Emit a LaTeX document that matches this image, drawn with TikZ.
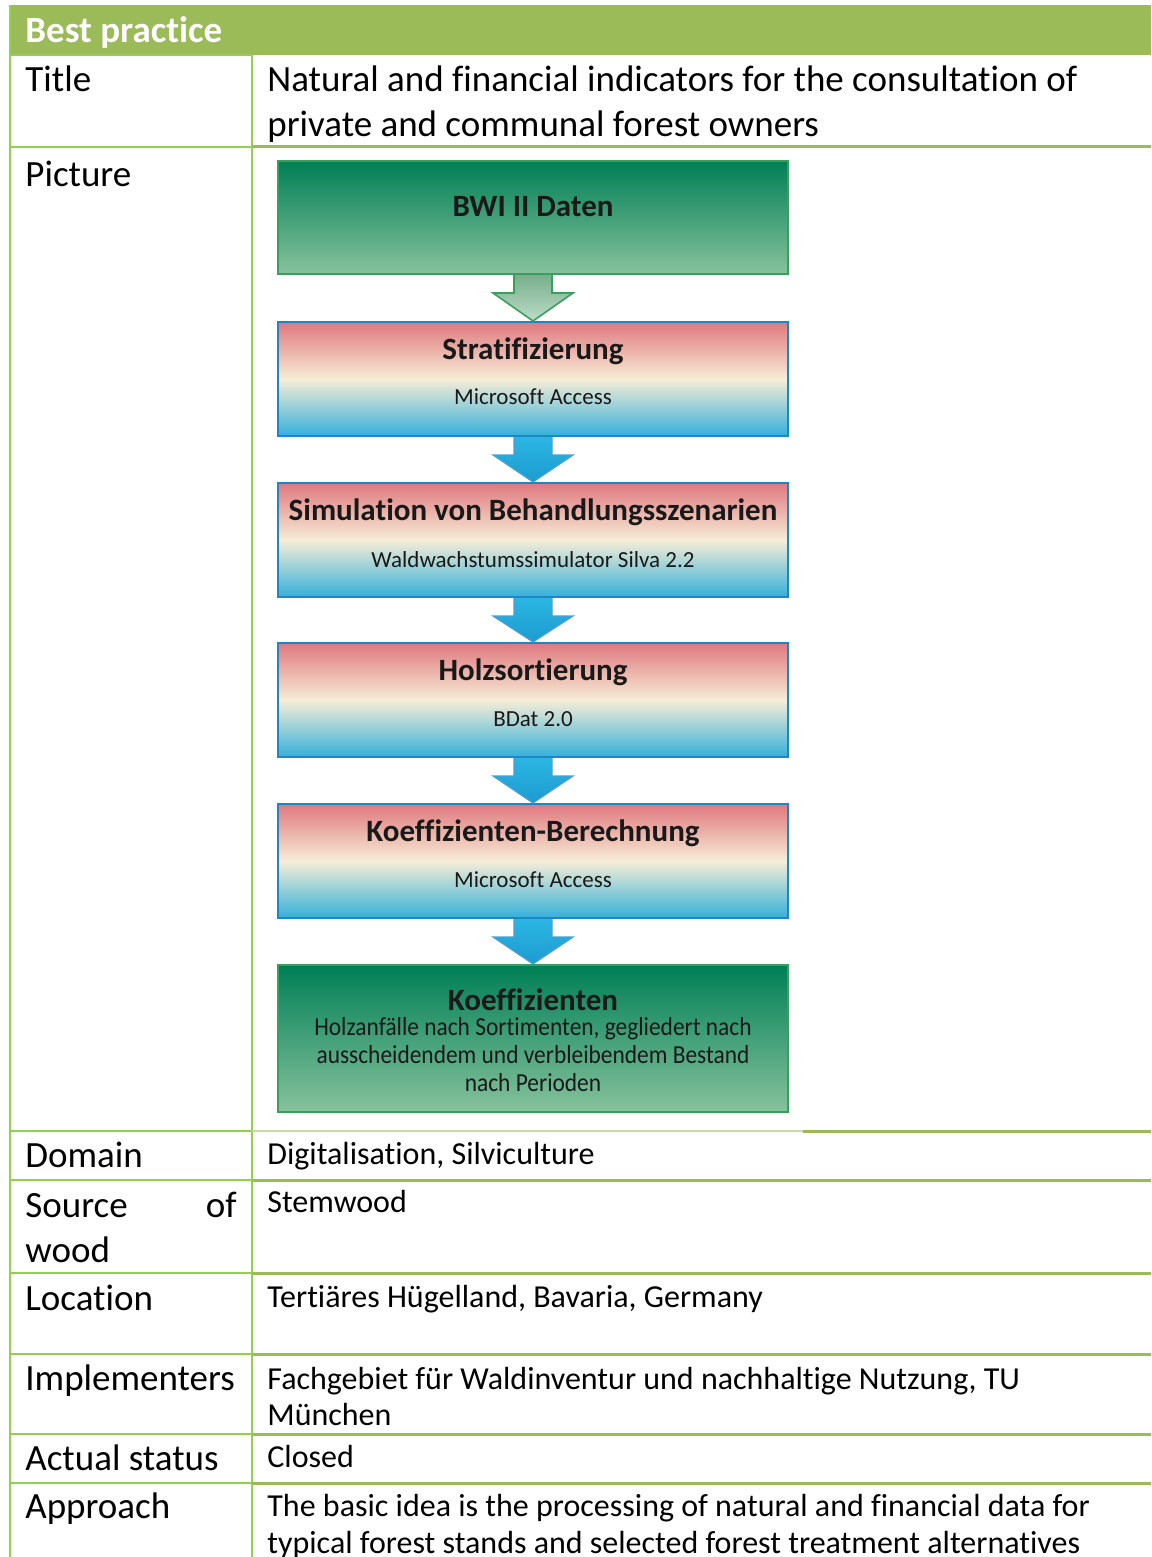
\documentclass[tikz,border=0pt]{standalone}
\usepackage{fontspec}
\setmainfont[Ligatures=NoCommon]{Carlito}
\newfontfamily\boxfont[Ligatures=NoCommon]{Carlito}
\newfontfamily\narrowfont[FakeStretch=0.9, Ligatures=NoCommon]{Carlito}
\usetikzlibrary{calc}

\definecolor{headgreen}{HTML}{9BBB59}
\definecolor{gridgreen}{HTML}{92D050}
\definecolor{darkforest}{HTML}{007F56}
\definecolor{paleforest}{HTML}{86C29C}
\definecolor{boxedge}{HTML}{3A9E5C}
\definecolor{rosetop}{HTML}{E0787E}
\definecolor{creammid}{HTML}{F6EDD6}
\definecolor{cyanbot}{HTML}{34B0DA}
\definecolor{blueedge}{HTML}{1F86C6}
\definecolor{arrowtop}{HTML}{2BB6E2}
\definecolor{arrowbot}{HTML}{1C9BD0}

\tikzset{
  greenbox/.style={draw=boxedge, line width=1pt, top color=darkforest,
    bottom color=paleforest, minimum width=255pt, inner sep=0pt},
  stepbox/.style={draw=blueedge, line width=1pt, top color=rosetop,
    bottom color=cyanbot, middle color=creammid, minimum width=255pt,
    minimum height=57pt, inner sep=0pt},
  bluearrow/.style={draw=blueedge!80, line width=0.6pt, top color=arrowtop, bottom color=arrowbot},
  greenarrow/.style={draw=boxedge, line width=0.8pt, top color=paleforest!90!black, bottom color=paleforest!55},
  boxtitle/.style={anchor=base, inner sep=0pt, font=\boxfont\bfseries\fontsize{15.5}{18}\selectfont, text=black!90},
  boxsub/.style={anchor=base, inner sep=0pt, font=\boxfont\fontsize{11.5}{14}\selectfont, text=black!90},
  boxnote/.style={anchor=base, inner sep=0pt, font=\narrowfont\fontsize{13}{14}\selectfont, text=black!90},
  rowlabel/.style={anchor=base west, inner sep=0pt, font=\fontsize{18.5}{22.5}\selectfont},
  rowtext/.style={anchor=base west, inner sep=0pt, font=\fontsize{16}{19.5}\selectfont},
  thinrule/.style={draw=gridgreen, line width=1pt},
  thickrule/.style={draw=headgreen, line width=1.5pt}
}

\begin{document}
\begin{tikzpicture}[x=0.5pt, y=-0.5pt]
    \useasboundingbox (0, 0) rectangle (1151, 1557);

    % Header band
    \fill[headgreen] (10, 5) rectangle (1151, 55);
    \node[rowlabel, font=\bfseries\fontsize{18.5}{22.5}\selectfont, text=white] (head) at (25, 43) {Best practice};

    % Grid of the table
    \draw[thinrule] (10, 5) -- (10, 1557);
    \draw[thinrule] (252, 55) -- (252, 1557);
    \draw[thinrule] (10, 55) -- (252, 55);
    \draw[thinrule] (10, 147) -- (252, 147);
    \draw[thickrule] (252, 147) -- (1151, 147);
    \draw[thinrule] (10, 1131) -- (252, 1131);
    \draw[draw=headgreen!55, line width=1pt] (252, 1131) -- (803, 1131);
    \draw[thickrule] (803, 1131) -- (1151, 1131);
    \draw[thinrule] (10, 1180) -- (252, 1180);
    \draw[thickrule] (252, 1180) -- (1151, 1180);
    \draw[thinrule] (10, 1273) -- (252, 1273);
    \draw[thickrule] (252, 1273) -- (1151, 1273);
    \draw[thinrule] (10, 1354) -- (252, 1354);
    \draw[thickrule] (252, 1354) -- (1151, 1354);
    \draw[thinrule] (10, 1434) -- (252, 1434);
    \draw[thickrule] (252, 1434) -- (1151, 1434);
    \draw[thinrule] (10, 1483) -- (252, 1483);
    \draw[thickrule] (252, 1483) -- (1151, 1483);

    % Row labels
    \node[rowlabel] (lab-title) at (25, 92) {Title};
    \node[rowlabel] (lab-pic) at (25, 187) {Picture};
    \node[rowlabel] (lab-dom) at (25, 1167) {Domain};
    \node[rowlabel] (lab-src) at (25, 1217) {Source};
    \node[rowlabel, anchor=base east] (lab-of) at (237, 1217) {of};
    \node[rowlabel] (lab-wood) at (25, 1262) {wood};
    \node[rowlabel] (lab-loc) at (25, 1310) {Location};
    \node[rowlabel] (lab-impl) at (25, 1390) {Implementers};
    \node[rowlabel] (lab-stat) at (25, 1470) {Actual status};
    \node[rowlabel] (lab-appr) at (25, 1518) {Approach};

    % Row contents
    \node[rowlabel] (txt-title1) at (267, 92) {Natural and financial indicators for the consultation of};
    \node[rowlabel] (txt-title2) at (267, 137) {private and communal forest owners};
    \node[rowtext] (txt-dom) at (267, 1164) {Digitalisation, Silviculture};
    \node[rowtext] (txt-src) at (267, 1212) {Stemwood};
    \node[rowtext] (txt-loc) at (267, 1307) {Tertiäres Hügelland, Bavaria, Germany};
    \node[rowtext] (txt-impl1) at (267, 1389) {Fachgebiet für Waldinventur und nachhaltige Nutzung, TU};
    \node[rowtext] (txt-impl2) at (267, 1425) {München};
    \node[rowtext] (txt-stat) at (267, 1467) {Closed};
    \node[rowtext] (txt-appr1) at (267, 1516) {The basic idea is the processing of natural and financial data for};
    \node[rowtext] (txt-appr2) at (267, 1553) {typical forest stands and selected forest treatment alternatives};

    % Flow chart boxes
    \node[greenbox, minimum height=56.5pt] (bwi) at (533, 217.5) {};
    \node[stepbox] (strat) at (533, 379) {};
    \node[stepbox] (simu) at (533, 540) {};
    \node[stepbox] (holz) at (533, 700) {};
    \node[stepbox] (berech) at (533, 861) {};
    \node[greenbox, minimum height=73.5pt] (koeff) at (533, 1038.5) {};

    % Block arrows between the boxes
    \draw[greenarrow] ($(bwi.south)+(-19,0)$) -- ($(bwi.south)+(-19,18)$) -- ($(bwi.south)+(-40,18)$) -- (strat.north)
        -- ($(bwi.south)+(40,18)$) -- ($(bwi.south)+(19,18)$) -- ($(bwi.south)+(19,0)$);
    \draw[bluearrow] ($(strat.south)+(-19,0)$) -- ($(strat.south)+(-19,18)$) -- ($(strat.south)+(-40,18)$) -- (simu.north)
        -- ($(strat.south)+(40,18)$) -- ($(strat.south)+(19,18)$) -- ($(strat.south)+(19,0)$);
    \draw[bluearrow] ($(simu.south)+(-19,0)$) -- ($(simu.south)+(-19,18)$) -- ($(simu.south)+(-40,18)$) -- (holz.north)
        -- ($(simu.south)+(40,18)$) -- ($(simu.south)+(19,18)$) -- ($(simu.south)+(19,0)$);
    \draw[bluearrow] ($(holz.south)+(-19,0)$) -- ($(holz.south)+(-19,18)$) -- ($(holz.south)+(-40,18)$) -- (berech.north)
        -- ($(holz.south)+(40,18)$) -- ($(holz.south)+(19,18)$) -- ($(holz.south)+(19,0)$);
    \draw[bluearrow] ($(berech.south)+(-19,0)$) -- ($(berech.south)+(-19,18)$) -- ($(berech.south)+(-40,18)$) -- (koeff.north)
        -- ($(berech.south)+(40,18)$) -- ($(berech.south)+(19,18)$) -- ($(berech.south)+(19,0)$);

    % Texts in the boxes
    \node[boxtitle] (bwi-t) at (533, 217) {BWI II Daten};
    \node[boxtitle] (strat-t) at (533, 359) {Stratifizierung};
    \node[boxsub] (strat-s) at (533, 404) {Microsoft Access};
    \node[boxtitle] (simu-t) at (533, 520) {Simulation von Behandlungsszenarien};
    \node[boxsub] (simu-s) at (533, 567) {Waldwachstumssimulator Silva 2.2};
    \node[boxtitle] (holz-t) at (533, 680) {Holzsortierung};
    \node[boxsub] (holz-s) at (533, 726) {BDat 2.0};
    \node[boxtitle] (berech-t) at (533, 841) {Koeffizienten-Berechnung};
    \node[boxsub] (berech-s) at (533, 887) {Microsoft Access};
    \node[boxtitle] (koeff-t) at (533, 1010) {Koeffizienten};
    \node[boxnote] (koeff-a) at (533, 1035) {Holzanfälle nach Sortimenten, gegliedert nach};
    \node[boxnote] (koeff-b) at (533, 1063) {ausscheidendem und verbleibendem Bestand};
    \node[boxnote] (koeff-c) at (533, 1091) {nach Perioden};
\end{tikzpicture}
\end{document}
